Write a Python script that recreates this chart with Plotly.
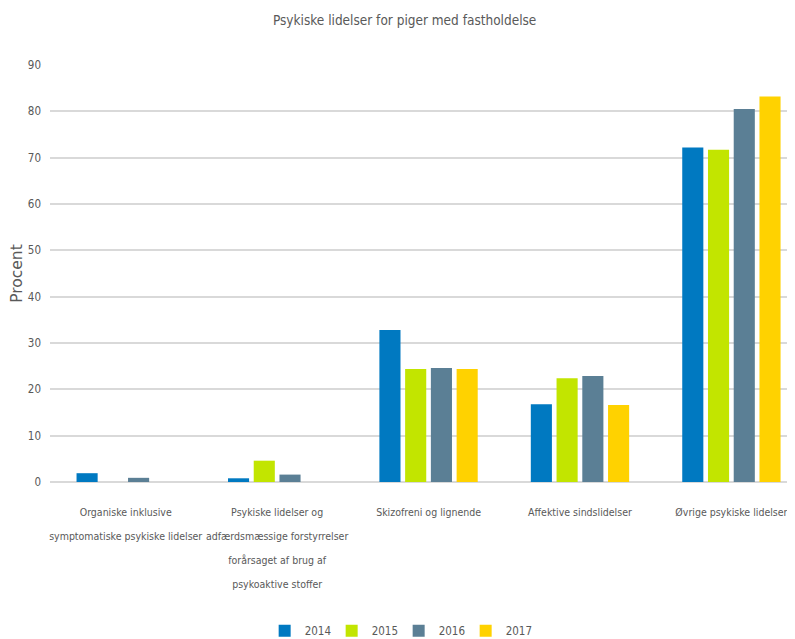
import plotly.graph_objects as go

categories = [
    "Organiske inklusive<br>symptomatiske psykiske lidelser",
    "Psykiske lidelser og<br>adfærdsmæssige forstyrrelser<br>forårsaget af brug af<br>psykoaktive stoffer",
    "Skizofreni og lignende",
    "Affektive sindslidelser",
    "Øvrige psykiske lidelser",
]
years = ["2014", "2015", "2016", "2017"]
v2014 = [1.9, 0.8, 32.8, 16.8, 72.2]
v2015 = [0, 4.6, 24.4, 22.4, 71.7]
v2016 = [0.9, 1.6, 24.6, 22.9, 80.5]
v2017 = [0, 0, 24.4, 16.6, 83.2]
series = [v2014, v2015, v2016, v2017]
colors = ["#0079C1", "#C2E500", "#5B7F95", "#FFD200"]

FONT = "DejaVu Sans Condensed, Liberation Sans Narrow, Roboto, sans-serif"

# tick texts: small glyphs on a larger base font so that lines are spaced widely
ticktext = ["<br>".join("<span style='font-size:10.5px'>%s</span>" % ln
                        for ln in c.split("<br>")) for c in categories]

fig = go.Figure()
for y, vals, c in zip(years, series, colors):
    fig.add_trace(go.Bar(name=y, x=categories, y=vals, marker_color=c,
                         marker_line_width=0))

# page has an 8px body margin, so the figure is 787x631 placed at (8, 8)
fig.update_layout(
    width=787, height=631,
    margin=dict(l=42, r=0, t=57, b=157, autoexpand=False),
    paper_bgcolor="white", plot_bgcolor="white",
    barmode="group", bargap=0.32, bargroupgap=0.18,
    font=dict(family=FONT, color="#595959", size=12),
    title=dict(text="Psykiske lidelser for piger med fastholdelse",
               x=0.504, xanchor="center", y=0.981, yanchor="middle",
               font=dict(family=FONT, size=13.5, color="#595959")),
    legend=dict(orientation="h", x=0.468, xanchor="center", y=-0.357, yanchor="middle",
                font=dict(family=FONT, size=11.5, color="#595959"),
                entrywidth=22, itemwidth=30, traceorder="normal"),
    xaxis=dict(range=[-0.5, 4.42], showgrid=False, showline=False, ticks="",
               tickangle=0, automargin=False, ticklabelstandoff=14,
               tickmode="array", tickvals=categories, ticktext=ticktext,
               tickfont=dict(family=FONT, size=18.5, color="#595959")),
    yaxis=dict(range=[0, 90], dtick=10, showgrid=True, gridcolor="#D9D9D9", gridwidth=2,
               zeroline=True, zerolinecolor="#D9D9D9", zerolinewidth=2,
               showline=False, ticks="", ticklabelstandoff=8, automargin=False,
               tickfont=dict(family=FONT, size=11.5, color="#595959"),
               title=dict(text="Procent", standoff=8,
                          font=dict(family="DejaVu Sans, sans-serif", size=15.5, color="#595959"))),
)

fig.write_html("out.html")
